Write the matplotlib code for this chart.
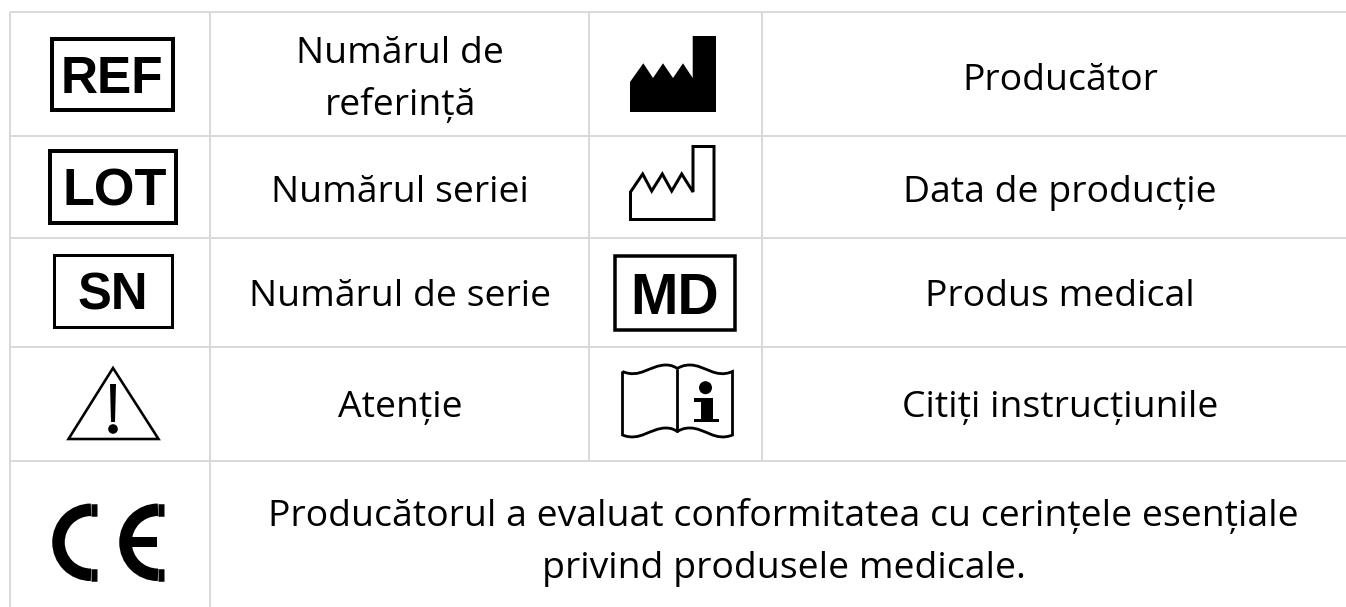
import matplotlib
matplotlib.use('Agg')
import matplotlib.pyplot as plt
from matplotlib.path import Path
from matplotlib.patches import PathPatch, Rectangle, Circle, Arc, Polygon

# Texte din tabel
left_labels = [['Numărul de', 'referință'], ['Numărul seriei'], ['Numărul de serie'], ['Atenție']]
right_labels = ['Producător', 'Data de producție', 'Produs medical', 'Citiți instrucțiunile']
bottom_label = ['Producătorul a evaluat conformitatea cu cerințele esențiale',
                'privind produsele medicale.']
box_codes = ['REF', 'LOT', 'SN', 'MD']

# Grila, in pixeli
W, H = 1346, 607
row_y = [12, 136, 238, 347, 461]
col_x = [10, 210, 589, 762]
GRID = '#d9d9d9'
FONT = 'Open Sans'
SIZE = 26.9


def px(v):
    # latime in pixeli -> puncte
    return v * 72 / 100


fig = plt.figure(figsize=(W / 100, H / 100), dpi=100)
ax = fig.add_axes([0, 0, 1, 1])
ax.set_xlim(0, W)
ax.set_ylim(H, 0)
ax.axis('off')

# Liniile tabelului
for y in row_y:
    ax.plot([col_x[0], W], [y, y], color=GRID, lw=px(2), solid_capstyle='butt')
for x in col_x[:2]:
    ax.plot([x, x], [row_y[0], H], color=GRID, lw=px(2), solid_capstyle='butt')
for x in col_x[2:]:
    ax.plot([x, x], [row_y[0], row_y[4]], color=GRID, lw=px(2), solid_capstyle='butt')

# Texte
left_base = [[63, 115], [201.5], [306.5], [417]]
for lines, bases in zip(left_labels, left_base):
    for line, b in zip(lines, bases):
        ax.text(400, b, line, family=FONT, fontsize=SIZE, ha='center', va='baseline', color='#000000')
right_base = [89.5, 202, 306.5, 417]
for line, b in zip(right_labels, right_base):
    ax.text(1060, b, line, family=FONT, fontsize=SIZE, ha='center', va='baseline', color='#000000')
for line, b in zip(bottom_label, [526.5, 578]):
    ax.text(783.5, b, line, family=FONT, fontsize=SIZE, ha='center', va='baseline', color='#000000')

# Simbolurile cu chenar: x0, y0, x1, y1, grosime, centru text, baza text, marime
boxes = [(52, 39, 173, 110, 4, 112, 93, 37),
         (50, 151, 176, 223, 4, 115, 206, 37.5),
         (53.5, 254.5, 171.5, 326.5, 3, 113, 310, 36.5),
         (615, 256, 735, 330, 3.5, 675, 314, 41)]
for code, b in zip(box_codes, boxes):
    ax.add_patch(Rectangle((b[0], b[1]), b[2] - b[0], b[3] - b[1], fill=False, ec='black', lw=px(b[4])))
    ax.text(b[5], b[6], code, family='Liberation Sans', fontweight='bold', fontsize=b[7],
            ha='center', va='baseline', color='black')

# Fabrica plina
ax.add_patch(Polygon([(630, 112), (630, 82), (643.3, 63.3), (653, 78), (663, 63.3), (673, 78), (683, 63.3),
                      (692.7, 78), (692.7, 36), (716, 36), (716, 112)], closed=True, fc='black', ec='none'))

# Fabrica goala
ax.add_patch(Polygon([(630.5, 219.5), (630.5, 192), (642.7, 174), (651.7, 191), (662.3, 174), (671.7, 191),
                      (681.7, 174), (693, 192), (693, 146.5), (714, 146.5), (714, 219.5)],
                     closed=True, fc='white', ec='black', lw=px(3), joinstyle='miter'))

# Triunghi de atentie
ax.add_patch(Polygon([(113, 368), (68.5, 439), (158.5, 439)], closed=True, fc='white', ec='black',
                     lw=px(2.6), joinstyle='miter'))
ax.add_patch(Polygon([(110, 384), (116, 384), (115, 422), (111, 422)], closed=True, fc='black', ec='none'))
ax.add_patch(Circle((113, 429), 4.8, fc='black', ec='none'))

# Carte cu "i"
M, L, C = Path.MOVETO, Path.LINETO, Path.CURVE4
book = Path([(622.5, 371.5), (640, 379), (650, 365), (666, 365), (672, 365), (675, 367), (677.3, 368.5),
             (680, 367), (683, 365), (690, 365), (705, 365), (715, 379), (732.5, 371.5),
             (732.5, 435), (715, 442), (705, 428), (690, 428), (683, 428), (680, 430), (677.3, 431.5),
             (675, 430), (672, 428), (666, 428), (650, 428), (640, 442), (622.5, 435), (622.5, 371.5)],
            [M, C, C, C, C, C, C, C, C, C, C, C, C, L, C, C, C, C, C, C, C, C, C, C, C, C, L])
ax.add_patch(PathPatch(book, fc='white', ec='black', lw=px(2.8)))
ax.plot([677.3, 677.3], [368.5, 431.5], color='black', lw=px(2.8), solid_capstyle='butt')
ax.add_patch(Circle((705.5, 387.7), 6.5, fc='black', ec='none'))
ax.add_patch(Polygon([(694, 398), (712.5, 398), (712.5, 418.5), (718.5, 418.5), (718.5, 421.5), (694, 421.5),
                      (694, 418.5), (700.5, 418.5), (700.5, 402), (694, 402)], closed=True, fc='black', ec='none'))

# Marcajul CE
R = 32.5
T = 12.5
ax.add_patch(Arc((91, 542.3), 2 * R, 2 * R, theta1=90, theta2=270, ec='black', lw=px(T), capstyle='butt'))
ax.plot([91, 97], [542.3 - R, 542.3 - R], color='black', lw=px(T), solid_capstyle='butt')
ax.plot([91, 97], [542.3 + R, 542.3 + R], color='black', lw=px(T), solid_capstyle='butt')
ax.add_patch(Arc((158, 542.3), 2 * R, 2 * R, theta1=90, theta2=270, ec='black', lw=px(T), capstyle='butt'))
ax.plot([158, 164], [542.3 - R, 542.3 - R], color='black', lw=px(T), solid_capstyle='butt')
ax.plot([158, 164], [542.3 + R, 542.3 + R], color='black', lw=px(T), solid_capstyle='butt')
ax.plot([125, 156.5], [542, 542], color='black', lw=px(10), solid_capstyle='butt')

fig.savefig('out.png', dpi=100, facecolor='white')
